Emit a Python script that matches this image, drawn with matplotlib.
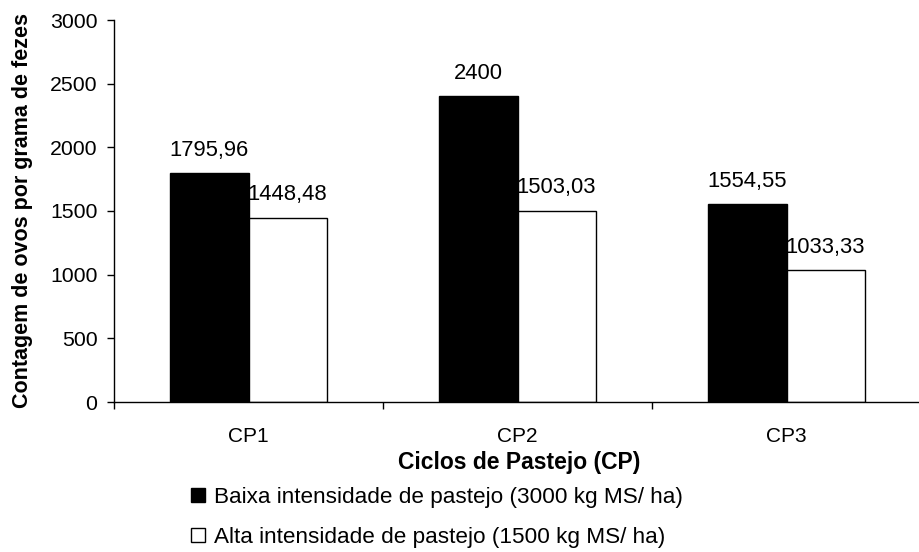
import matplotlib
matplotlib.use("Agg")
import matplotlib.pyplot as plt
import numpy as np
from matplotlib.patches import Patch
from matplotlib.ticker import FixedLocator

categories = ["CP1", "CP2", "CP3"]
baixa = [1795.96, 2400, 1554.55]
alta = [1448.48, 1503.03, 1033.33]
baixa_labels = ["1795,96", "2400", "1554,55"]
alta_labels = ["1448,48", "1503,03", "1033,33"]
series_names = ["Baixa intensidade de pastejo (3000 kg MS/ ha)",
                "Alta intensidade de pastejo (1500 kg MS/ ha)"]
yticks = [0, 500, 1000, 1500, 2000, 2500, 3000]

plt.rcParams["font.family"] = ["Liberation Sans", "DejaVu Sans"]

W, H = 919, 552
fig = plt.figure(figsize=(W / 100, H / 100), dpi=100)
ax_left, ax_right, ax_top, ax_bottom = 114, 919, 20, 402
ax = fig.add_axes([ax_left / W, 1 - ax_bottom / H,
                   (ax_right - ax_left) / W, (ax_bottom - ax_top) / H])

cat_px = 269.0
x = np.arange(len(categories))
bw = 0.29
ax.bar(x - bw / 2, baixa, bw, color="black", edgecolor="black", linewidth=1.0,
       label=series_names[0])
ax.bar(x + bw / 2, alta, bw, color="white", edgecolor="black", linewidth=1.0,
       label=series_names[1])

for xi, v, t in zip(x, baixa, baixa_labels):
    ax.annotate(t, (xi - bw / 2, v), xytext=(0, 12.5), textcoords="offset points",
                ha="center", va="baseline", fontsize=15.8)
for xi, v, t in zip(x, alta, alta_labels):
    ax.annotate(t, (xi + bw / 2, v), xytext=(0, 12.5), textcoords="offset points",
                ha="center", va="baseline", fontsize=15.8)

ax.set_xlim(-0.5, -0.5 + (ax_right - ax_left) / cat_px)
ax.set_ylim(0, 3000)
ax.set_yticks(yticks)
ax.set_yticklabels([str(v) for v in yticks])
ax.set_xticks(x)
ax.set_xticklabels(categories)
ax.xaxis.set_minor_locator(FixedLocator([-0.5, 0.5, 1.5, 2.5]))
ax.tick_params(axis="x", which="major", length=0, pad=18, labelsize=15)
ax.tick_params(axis="x", which="minor", length=5, width=1.0, color="black")
ax.tick_params(axis="y", length=5, width=1.0, pad=7, labelsize=15.3)

for s in ["top", "right"]:
    ax.spines[s].set_visible(False)
for s in ["left", "bottom"]:
    ax.spines[s].set_linewidth(1.0)

fig.text(519 / W, 1 - 463 / H, "Ciclos de Pastejo (CP)", ha="center", va="center",
         fontsize=16.5, fontweight="bold")
fig.text(23 / W, 1 - 210 / H, "Contagem de ovos por grama de fezes", ha="center",
         va="center", rotation=90, fontsize=15.5, fontweight="bold")

handles = [Patch(facecolor="black", edgecolor="black", linewidth=1.0),
           Patch(facecolor="white", edgecolor="black", linewidth=1.0)]
fig.legend(handles, series_names, loc="upper left",
           bbox_to_anchor=(191 / W, 1 - 487 / H), frameon=False, fontsize=16.2,
           handlelength=0.6, handleheight=0.6, handletextpad=0.42,
           labelspacing=0.85, borderaxespad=0, borderpad=0)

fig.savefig("out.png", dpi=100)
